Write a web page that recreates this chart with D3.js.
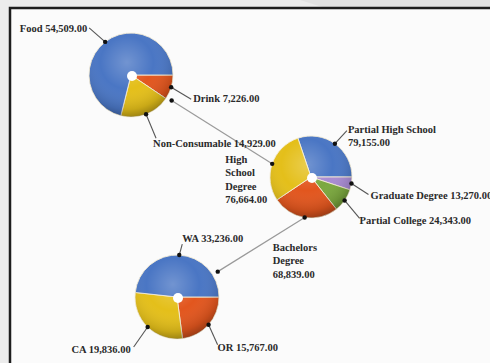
<!DOCTYPE html>
<html><head><meta charset="utf-8">
<script src="https://cdn.jsdelivr.net/npm/d3@7"></script>
<style>html,body{margin:0;padding:0;background:#ececec;}svg{display:block;}</style>
</head><body>
<svg id="c" width="490" height="363"></svg>
<script>
// ---- data ----
const mainCategories = ["Partial High School", "Graduate Degree", "Partial College", "Bachelors Degree", "High School Degree"];
const mainValues = [79155, 13270, 24343, 68839, 76664];
const hsCategories = ["Drink", "Non-Consumable", "Food"];
const hsValues = [7226, 14929, 54509];
const baCategories = ["OR", "CA", "WA"];
const baValues = [15767, 19836, 33236];

// ---- layout / style ----
const W = 490, H = 363;
const colors = {
  "Partial High School": "#4a76c4", "Graduate Degree": "#a88bd2", "Partial College": "#7ba83e",
  "Bachelors Degree": "#e2561e", "High School Degree": "#e4bf1a",
  "Drink": "#e2561e", "Non-Consumable": "#e4bf1a", "Food": "#4a76c4",
  "OR": "#e2561e", "CA": "#e4bf1a", "WA": "#4a76c4"
};
const fmt = d3.format(",.2f");
const svg = d3.select("#c");
const defs = svg.append("defs");
const grad = defs.append("radialGradient").attr("id", "shade")
  .attr("cx", "0.45").attr("cy", "0.35").attr("r", "0.7");
grad.append("stop").attr("offset", "0").attr("stop-color", "#fff").attr("stop-opacity", 0.22);
grad.append("stop").attr("offset", "0.45").attr("stop-color", "#fff").attr("stop-opacity", 0);
grad.append("stop").attr("offset", "0.8").attr("stop-color", "#000").attr("stop-opacity", 0.12);
grad.append("stop").attr("offset", "1").attr("stop-color", "#000").attr("stop-opacity", 0.4);

// background + frame
svg.append("rect").attr("x", 0).attr("y", 0).attr("width", W).attr("height", H).attr("fill", "#ececec");
svg.append("path").attr("d", "M300,0 L490,0 L490,60 Z").attr("fill", "#e2e2e2");
svg.append("rect").attr("x", 10).attr("y", 8).attr("width", W + 10).attr("height", H + 10)
  .attr("fill", "#fbfbfb").attr("stroke", "#1e1e1e").attr("stroke-width", 2.5);

const pies = [
  {id: "main", cats: mainCategories, vals: mainValues, cx: 311, cy: 177, r: 41, endFirstAt3: true},
  {id: "hs", cats: hsCategories, vals: hsValues, cx: 131, cy: 75, r: 42},
  {id: "ba", cats: baCategories, vals: baValues, cx: 177, cy: 297, r: 42}
];

// label placement: elbow offset from dot, text offset from elbow, anchor, lines mode
const labelLayout = {
  "Food": {e: [-16, -14], t: [-2, 4], a: "end"},
  "Drink": {e: [20, 12], t: [2, 3], a: "start"},
  "Non-Consumable": {e: [10, 24], t: [-3, 9], a: "start"},
  "Partial High School": {e: [12, -13], t: [1, 2], a: "start", split: "value"},
  "Graduate Degree": {e: [17, 11], t: [2, 5], a: "start"},
  "Partial College": {e: [15, 18], t: [0, 6], a: "start"},
  "High School Degree": {e: [0, 0], t: [-47, -1], a: "start", split: "words"},
  "Bachelors Degree": {e: [0, 0], t: [-32, 33], a: "start", split: "words"},
  "WA": {e: [3, -11], t: [0, -2], a: "start"},
  "CA": {e: [-14, 20], t: [-3, 6], a: "end"},
  "OR": {e: [9, 20], t: [0, 6], a: "start"}
};

const dots = {};
const gLines = svg.append("g");
const gPies = svg.append("g");
const gLabels = svg.append("g");

pies.forEach(p => {
  const total = d3.sum(p.vals);
  const start = p.endFirstAt3 ? Math.PI / 2 - 2 * Math.PI * p.vals[0] / total : Math.PI / 2;
  const pie = d3.pie().sort(null).value(d => d.v).startAngle(start).endAngle(start + 2 * Math.PI);
  const arcs = pie(p.cats.map((c, i) => ({c, v: p.vals[i]})));
  const arc = d3.arc().innerRadius(0).outerRadius(p.r);
  const g = gPies.append("g").attr("transform", `translate(${p.cx},${p.cy})`);
  g.selectAll("path").data(arcs).join("path")
    .attr("d", arc).attr("fill", d => colors[d.data.c])
    .attr("stroke", "#f4ecd6").attr("stroke-width", 0.9);
  g.append("circle").attr("r", p.r).attr("fill", "url(#shade)");
  g.append("circle").attr("cx", 1).attr("cy", 1).attr("r", 5).attr("fill", "#fff");
  arcs.forEach(a => {
    const m = (a.startAngle + a.endAngle) / 2;
    const x = p.cx + p.r * Math.sin(m), y = p.cy - p.r * Math.cos(m);
    dots[a.data.c] = {x, y, value: a.data.v, pie: p};
  });
});

// connectors from parent slices to sub-pies
[["High School Degree", "hs"], ["Bachelors Degree", "ba"]].forEach(([cat, pid]) => {
  const s = dots[cat];
  const p = pies.find(q => q.id === pid);
  const dx = s.x - p.cx, dy = s.y - p.cy, L = Math.hypot(dx, dy);
  const ex = p.cx + dx / L * (p.r + 6), ey = p.cy + dy / L * (p.r + 6);
  gLines.append("line").attr("x1", s.x).attr("y1", s.y).attr("x2", ex).attr("y2", ey)
    .attr("stroke", "#9a9a9a").attr("stroke-width", 1.2);
  gLabels.append("circle").attr("cx", ex).attr("cy", ey).attr("r", 2.2).attr("fill", "#111");
});

// labels
Object.keys(dots).forEach(c => {
  const d = dots[c], L = labelLayout[c];
  const ex = d.x + L.e[0], ey = d.y + L.e[1];
  if (L.e[0] !== 0 || L.e[1] !== 0) {
    gLines.append("line").attr("x1", d.x).attr("y1", d.y).attr("x2", ex).attr("y2", ey)
      .attr("stroke", "#555").attr("stroke-width", 1.1);
  }
  gLabels.append("circle").attr("cx", d.x).attr("cy", d.y).attr("r", 2.2).attr("fill", "#111");
  let lines;
  if (L.split === "words") lines = c.split(" ").concat([fmt(d.value)]);
  else if (L.split === "value") lines = [c, fmt(d.value)];
  else lines = [c + " " + fmt(d.value)];
  const t = gLabels.append("text")
    .attr("x", ex + L.t[0]).attr("y", ey + L.t[1])
    .attr("text-anchor", L.a)
    .attr("font-family", "'Liberation Serif', 'Times New Roman', serif")
    .attr("font-size", "10.5px").attr("font-weight", "bold").attr("fill", "#2a2a2a");
  lines.forEach((ln, i) => t.append("tspan").attr("x", ex + L.t[0]).attr("dy", i === 0 ? 0 : 13.5).text(ln));
});
</script>
</body></html>
